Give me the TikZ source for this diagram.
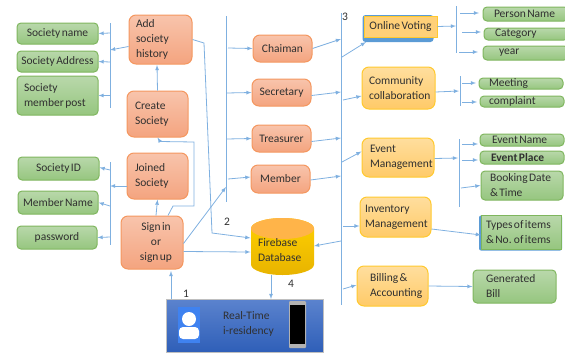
\documentclass[tikz,border=0pt]{standalone}
\usepackage{fontspec}
\setmainfont{Carlito}[WordSpace=0.55]
\usetikzlibrary{arrows}

\definecolor{linecol}{HTML}{7FB0E0}
\definecolor{txtcol}{HTML}{303030}
\definecolor{greenline}{HTML}{7FB65E}
\definecolor{greentop}{HTML}{B9D8AB}
\definecolor{greenbot}{HTML}{96C67F}
\definecolor{orangeline}{HTML}{F4975F}
\definecolor{orangetop}{HTML}{F8C4AC}
\definecolor{orangebot}{HTML}{F4A47F}
\definecolor{yellowline}{HTML}{FFC92E}
\definecolor{yellowtop}{HTML}{FFDE9E}
\definecolor{yellowbot}{HTML}{FFCA68}
\definecolor{shadowblue}{HTML}{5B9BD5}

\tikzset{
    box/.style={rectangle, inner ysep=0pt, inner xsep=0pt, align=center, text=txtcol, font=\fontsize{11.5}{15}\selectfont, line width=1pt},
    greenbox/.style={box, rounded corners=4pt, draw=greenline, top color=greentop, bottom color=greenbot},
    orangebox/.style={box, rounded corners=7pt, draw=orangeline, top color=orangetop, bottom color=orangebot},
    yellowbox/.style={box, rounded corners=7pt, draw=yellowline, top color=yellowtop, bottom color=yellowbot},
    leftin/.style 2 args={inner xsep=#1, text width=#2, align=flush left},
    line/.style={draw=linecol, line width=.8pt},
    arrow/.style={line, -latex}
}

\begin{document}
\begin{tikzpicture}[x=1pt, y=-1pt]
    \useasboundingbox (0,0) rectangle (565,354);

    % left green boxes
    \node (socname) at (57.5,33.5) [greenbox, minimum width=81pt, minimum height=21pt] {Society name};
    \node (socaddr) at (57.5,61.5) [greenbox, minimum width=81pt, minimum height=21pt] {Society Address};
    \node (socpost) at (57.5,95.5) [greenbox, minimum height=39pt, leftin={7pt}{67pt}] {Society\\\mbox{member post}};
    \node (socid) at (58.5,168.5) [greenbox, minimum width=81pt, minimum height=23pt] {Society ID};
    \node (memname) at (58,202.5) [greenbox, minimum width=80pt, minimum height=23pt] {Member Name};
    \node (passwd) at (57,237.5) [greenbox, minimum width=80pt, minimum height=23pt] {password};

    % orange boxes
    \node (addhist) at (160.5,39.5) [orangebox, minimum height=49pt, leftin={7pt}{49pt}] {Add\\society\\history};
    \node (create) at (157.5,114) [orangebox, minimum height=46pt, leftin={8pt}{45pt}] {Create\\Society};
    \node (joined) at (157.5,176) [orangebox, minimum height=46pt, leftin={8pt}{45pt}] {Joined\\Society};
    \node (signin) at (152,242.5) [orangebox, minimum width=62pt, minimum height=53pt] {\hspace*{8pt}Sign in\\\hspace*{8pt}or\\\hspace*{8pt}sign up};
    \node (chaiman) at (282.5,48.5) [orangebox, minimum width=59pt, minimum height=27pt] {Chaiman};
    \node (secretary) at (281.5,92.5) [orangebox, minimum width=59pt, minimum height=27pt] {Secretary};
    \node (treasurer) at (281.5,138.5) [orangebox, minimum width=59pt, minimum height=27pt] {Treasurer};
    \node (member) at (280.5,179) [orangebox, minimum width=59pt, minimum height=28pt] {Member};

    % yellow boxes
    \node (votingback) at (398,28.5) [rectangle, rounded corners=3pt, fill=shadowblue, minimum width=71pt, minimum height=27pt] {};
    \node (voting) at (400.5,26.5) [box, draw=yellowline, fill=yellowbot!70!yellowtop, minimum width=73pt, minimum height=21pt] {Online Voting};
    \node (commun) at (398.5,88) [yellowbox, minimum height=42pt, leftin={7pt}{59pt}] {Community\\collaboration};
    \node (event) at (398,157.5) [yellowbox, minimum height=39pt, leftin={8pt}{56pt}] {Event\\Management};
    \node (inventory) at (395.5,217) [yellowbox, minimum height=40pt, leftin={5pt}{61pt}] {Inventory\\Management};
    \node (billing) at (392.5,286) [yellowbox, minimum height=40pt, leftin={13pt}{45pt}] {\mbox{Billing \&}\\Accounting};

    % right green boxes
    \node (person) at (525.5,14) [greenbox, minimum height=14pt, leftin={11pt}{63pt}] {\mbox{Person Name}};
    \node (category) at (526,34) [greenbox, minimum height=12pt, leftin={11pt}{62pt}] {Category};
    \node (year) at (525.5,53) [greenbox, minimum height=14pt, leftin={16pt}{53pt}] {year};
    \node (meeting) at (521,83.5) [greenbox, minimum height=11pt, leftin={10pt}{64pt}] {Meeting};
    \node (complaint) at (522,101.5) [greenbox, minimum height=11pt, leftin={9pt}{66pt}] {complaint};
    \node (evname) at (522,140) [greenbox, minimum height=12pt, leftin={12pt}{60pt}] {\mbox{Event Name}};
    \node (evplace) at (522,157.5) [greenbox, minimum height=13pt, leftin={11pt}{62pt}] {\mbox{\textbf{Event Place}}};
    \node (booking) at (522,185.5) [greenbox, minimum height=29pt, leftin={9pt}{64pt}] {\mbox{Booking Date}\\\mbox{\& Time}};
    \node (typesback) at (520.5,233) [rectangle, rounded corners=2pt, fill=shadowblue, minimum width=83pt, minimum height=35pt] {};
    \node (types) at (521,232) [box, draw=greenline, top color=greentop, bottom color=greenbot, minimum height=34pt, leftin={5pt}{70pt}] {\mbox{Types of items}\\\mbox{\& No. of items}};
    \node (genbill) at (514.5,286.5) [greenbox, minimum height=33pt, leftin={13pt}{57pt}] {Generated\\Bill};

    % database
    \shade[top color={rgb,255:red,255;green,208;blue,0}, bottom color={rgb,255:red,232;green,180;blue,0}] (251,228.5) -- (251,264.5) arc[start angle=180, end angle=360, x radius=31.5pt, y radius=10.5pt] -- (314,228.5) arc[start angle=0, end angle=180, x radius=31.5pt, y radius=10.5pt];
    \fill[yellowbot!70!orange] (282.5,228.5) ellipse [x radius=31.5pt, y radius=10.5pt];
    \node (db) at (282.5,246.5) [box, minimum height=57pt, leftin={7pt}{49pt}] {\\Firebase\\Database};

    % real-time banner
    \node (banner) at (244.5,325.5) [rectangle, draw=gray!50, top color={rgb,255:red,91;green,131;blue,206}, bottom color={rgb,255:red,47;green,95;blue,184}, minimum width=157pt, minimum height=53pt] {};
    \node (bannertxt) at (253,323.5) [box, leftin={0pt}{60pt}] {Real-Time\\i-residency};
    \node (usericon) at (189,325) [rectangle, fill={rgb,255:red,63;green,130;blue,240}, minimum width=22pt, minimum height=36pt] {};
    \node (userhead) at (189,319) [circle, fill=white, minimum size=14pt, inner sep=0pt] {};
    \fill[white, rounded corners=4pt] (179,339) -- (179,327) -- (199,327) -- (199,339) -- cycle;
    \node (phone) at (297.5,324.5) [rectangle, rounded corners=1pt, fill=gray!60, minimum width=17pt, minimum height=47pt] {};
    \node (screen) at (297.5,324.5) [rectangle, fill=black, minimum width=15pt, minimum height=39pt] {};

    % step numbers
    \node (numa) at (186,294) [box] {1};
    \node (numb) at (227,222) [box] {2};
    \node (numc) at (345,17) [box] {3};
    \node (numd) at (291,284) [box] {4};

    % vertical bars
    \coordinate (bara) at (110,23);
    \coordinate (baraend) at (110,108);
    \coordinate (barb) at (110,162);
    \coordinate (barbend) at (110,245);
    \coordinate (barc) at (226.5,16);
    \coordinate (barcend) at (226.5,202);
    \coordinate (bard) at (341,13);
    \coordinate (bardend) at (341,305);
    \coordinate (bare) at (456.5,6);
    \coordinate (bareend) at (456.5,53);
    \coordinate (barf) at (460,76);
    \coordinate (barfend) at (460,106);
    \coordinate (barg) at (459.5,139);
    \coordinate (bargend) at (459.5,207);
    \draw [line] (bara) -- (baraend);
    \draw [line] (barb) -- (barbend);
    \draw [line] (barc) -- (barcend);
    \draw [line] (bard) -- (bardend);
    \draw [line] (bare) -- (bareend);
    \draw [line] (barf) -- (barfend);
    \draw [line] (barg) -- (bargend);

    % society side
    \draw [arrow] ([yshift=-7pt]addhist.west) -- (110,50);
    \draw [arrow] (110,33) -- (socname.east);
    \draw [arrow] (110,62) -- (socaddr.east);
    \draw [arrow] (110,95.5) -- (socpost.east);
    \draw [arrow] (create.north) -- (157,65);
    \draw [arrow] ([xshift=4pt]signin.north) -- (joined.south);
    \draw [arrow] ([yshift=-10pt]joined.west) -- (110,186);
    \draw [arrow] (110,170) -- ([yshift=1pt]socid.east);
    \draw [arrow] (110,206) -- (memname.east);
    \draw [arrow] (110,237) -- (passwd.east);
    \draw [arrow] ([xshift=16pt]signin.north) -- (173,206) -- (194,206) -- (194,142) -- (160,141.5) -- (create.south);
    \draw [arrow] (addhist.east) -- (204,43) -- (212,233) -- (db.west |- 0,238);
    \draw [arrow] ([yshift=-1pt]signin.east) -- (226,187);
    \draw [arrow] ([yshift=-9pt]signin.east) -- (db.west |- 0,252);
    \draw [arrow] (171,299) -- (171,271);
    \draw [arrow] (271,275) -- (271,299);

    % committee
    \draw [arrow] (228,48) -- (chaiman.west);
    \draw [arrow] (226.5,93) -- (secretary.west);
    \draw [arrow] (226.5,139) -- (treasurer.west);
    \draw [arrow] (228,179) -- ([yshift=2pt]member.west);
    \draw [arrow] (chaiman.east) -- (341,39);
    \draw [arrow] ([yshift=-3pt]secretary.east) -- (341,92);
    \draw [arrow] ([yshift=-3pt]treasurer.east) -- (341,138);
    \draw [arrow] ([yshift=-1pt]member.east) -- (341,176);

    % modules
    \draw [arrow] (341,241) -- (314,246);
    \draw [arrow] (342,57) -- (366,42);
    \draw [arrow] (343,100) -- ([yshift=-8pt]commun.west);
    \draw [arrow] (342,162) -- ([yshift=6pt]event.west);
    \draw [arrow] (343,226) -- ([yshift=-9pt]inventory.west);
    \draw [arrow] (343,289) -- ([yshift=1pt]billing.west);
    \draw [arrow] (voting.east) -- (456,26);
    \draw [arrow] ([yshift=-4pt]commun.east) -- (459,91);
    \draw [arrow] ([yshift=-1pt]event.east) -- (458,158);
    \draw [arrow] (460,13) -- (479,13);
    \draw [arrow] (462,32) -- (481,32);
    \draw [arrow] (459,52) -- (478,52);
    \draw [arrow] (462,83) -- (476,83);
    \draw [arrow] (462,102) -- (477,102);
    \draw [arrow] (462,144) -- (478,144);
    \draw [arrow] (462,160) -- (478,160);
    \draw [arrow] (461,188) -- (booking.west);
    \draw [arrow] ([yshift=-12pt]inventory.east) -- (481,235);
    \draw [arrow] (billing.east) -- (genbill.west);
\end{tikzpicture}
\end{document}
